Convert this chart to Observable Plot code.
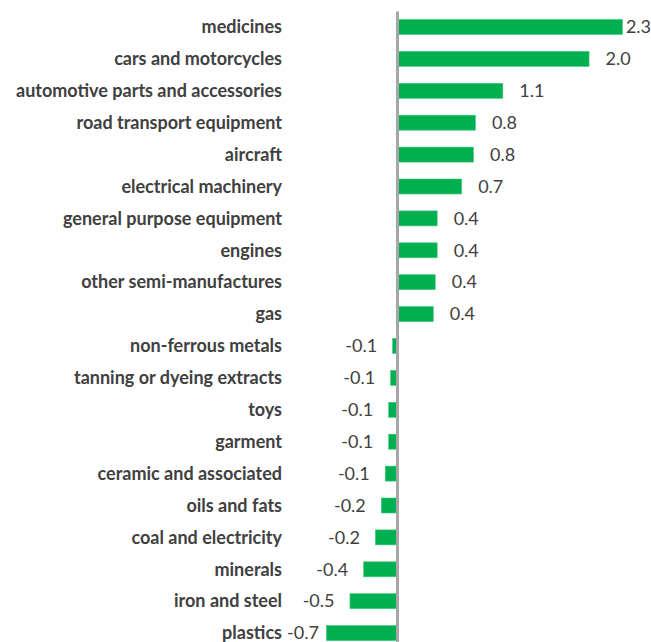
<!DOCTYPE html>
<html>
<head>
<meta charset="utf-8">
<script src="https://cdn.jsdelivr.net/npm/d3@7"></script>
<script src="https://cdn.jsdelivr.net/npm/@observablehq/plot@0.6"></script>
<style>
  html, body { margin: 0; padding: 0; background: #fff; }
  #chart svg { display: block; }
</style>
</head>
<body>
<div id="chart"></div>
<script>
const categories = [
  "medicines", "cars and motorcycles", "automotive parts and accessories",
  "road transport equipment", "aircraft", "electrical machinery",
  "general purpose equipment", "engines", "other semi-manufactures", "gas",
  "non-ferrous metals", "tanning or dyeing extracts", "toys", "garment",
  "ceramic and associated", "oils and fats", "coal and electricity",
  "minerals", "iron and steel", "plastics"
];
const values = [
  2.30, 1.96, 1.08, 0.80, 0.78, 0.66, 0.41, 0.41, 0.39, 0.37,
  -0.045, -0.065, -0.085, -0.085, -0.12, -0.16, -0.22, -0.34, -0.48, -0.72
];
const valueLabels = [
  "2.3", "2.0", "1.1", "0.8", "0.8", "0.7", "0.4", "0.4", "0.4", "0.4",
  "-0.1", "-0.1", "-0.1", "-0.1", "-0.1", "-0.2", "-0.2", "-0.4", "-0.5", "-0.7"
];

const data = categories.map((c, i) => ({category: c, value: values[i], label: valueLabels[i], i}));
const pos = data.filter(d => d.value >= 0);
const neg = data.filter(d => d.value < 0);
const textColor = "#404040";

const chart = Plot.plot({
  width: 651,
  height: 642,
  marginLeft: 323.5,
  marginRight: 9,
  marginTop: 19.5,
  marginBottom: 1.4,
  style: {fontFamily: "Lato, 'Liberation Sans', sans-serif", background: "#fff"},
  x: {domain: [-0.75, 2.5], axis: null},
  y: {domain: categories, axis: null, paddingInner: 0.53, paddingOuter: 0, round: false},
  marks: [
    Plot.barX(data, {x: "value", y: "category", fill: "#00b050", stroke: "#3fc77a", strokeWidth: 0.6}),
    Plot.ruleX([0], {stroke: "#a6a6a6", strokeWidth: 3, insetTop: -8, insetBottom: -2}),
    Plot.text(data, {y: "category", text: "category", frameAnchor: "left", textAnchor: "end", dx: -42,
      fontWeight: "bold", fontSize: 18, fill: textColor}),
    Plot.text(pos.filter(d => d.i === 0), {x: "value", y: "category", text: "label", textAnchor: "start", dx: 3,
      fontSize: 18, fill: textColor}),
    Plot.text(pos.filter(d => d.i !== 0), {x: "value", y: "category", text: "label", textAnchor: "start", dx: 16,
      fontSize: 18, fill: textColor}),
    Plot.text(neg.filter(d => d.category !== "plastics"), {x: "value", y: "category", text: "label", textAnchor: "end", dx: -16,
      fontSize: 18, fill: textColor}),
    Plot.text(neg.filter(d => d.category === "plastics"), {x: "value", y: "category", text: "label", textAnchor: "end", dx: -8,
      fontSize: 18, fill: textColor})
  ]
});
document.getElementById("chart").appendChild(chart);
</script>
</body>
</html>
